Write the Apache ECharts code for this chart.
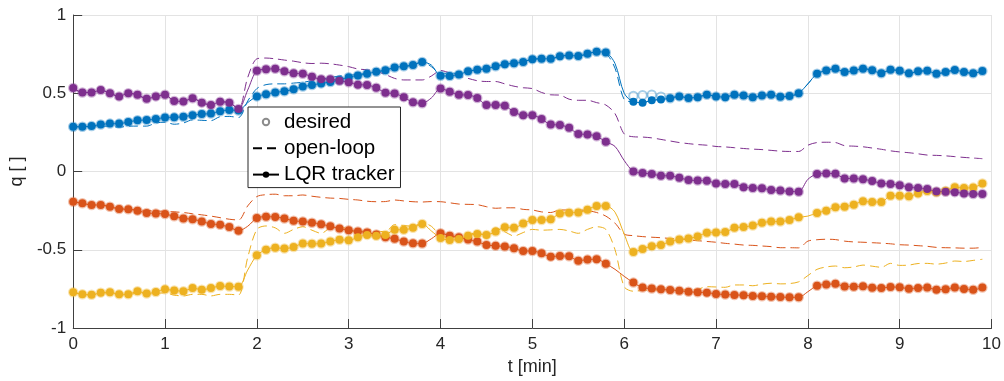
<!DOCTYPE html>
<html>
<head>
<meta charset="utf-8">
<script src="https://cdn.jsdelivr.net/npm/echarts@6/dist/echarts.min.js"></script>
<style>
  html, body { margin: 0; padding: 0; background: #fff; }
  #chart { width: 1004px; height: 381px; }
</style>
</head>
<body>
<div id="chart"></div>
<script>
// samples every 0.1 min, t = 0 ... 9.9
const dt = 0.1;

// q1 (blue)
const q1Lqr = [
  0.286, 0.286, 0.29, 0.30, 0.306, 0.306, 0.316, 0.327, 0.329, 0.335,
  0.345, 0.346, 0.35, 0.36, 0.367, 0.37, 0.385, 0.393, 0.39, 0.44,
  0.48, 0.493, 0.505, 0.513, 0.525, 0.543, 0.552, 0.563, 0.572, 0.585,
  0.603, 0.613, 0.625, 0.637, 0.647, 0.665, 0.672, 0.68, 0.70, 0.68,
  0.612, 0.61, 0.62, 0.64, 0.65, 0.657, 0.672, 0.686, 0.692, 0.70,
  0.718, 0.72, 0.72, 0.737, 0.742, 0.738, 0.752, 0.765, 0.76, 0.69,
  0.50, 0.445, 0.44, 0.455, 0.46, 0.468, 0.48, 0.47, 0.475, 0.49,
  0.48, 0.475, 0.49, 0.485, 0.474, 0.485, 0.49, 0.477, 0.482, 0.50,
  0.56, 0.625, 0.645, 0.657, 0.635, 0.645, 0.657, 0.647, 0.628, 0.65,
  0.643, 0.627, 0.64, 0.643, 0.625, 0.635, 0.648, 0.635, 0.628, 0.642
];
const q1Open = [
  0.286, 0.285, 0.285, 0.288, 0.29, 0.282, 0.29, 0.29, 0.29, 0.31,
  0.315, 0.302, 0.31, 0.33, 0.327, 0.325, 0.35, 0.352, 0.345, 0.45,
  0.53, 0.555, 0.56, 0.56, 0.565, 0.57, 0.58, 0.59, 0.60, 0.61,
  0.615, 0.62, 0.628, 0.637, 0.647, 0.665, 0.672, 0.68, 0.70, 0.67,
  0.625, 0.63, 0.625, 0.64, 0.65, 0.657, 0.672, 0.686, 0.692, 0.70,
  0.718, 0.72, 0.72, 0.737, 0.742, 0.738, 0.752, 0.765, 0.755, 0.66,
  0.46, 0.445, 0.44, 0.455, 0.46, 0.468, 0.48, 0.47, 0.475, 0.49,
  0.48, 0.475, 0.49, 0.485, 0.474, 0.485, 0.49, 0.477, 0.482, 0.50,
  0.56, 0.625, 0.645, 0.657, 0.635, 0.645, 0.657, 0.647, 0.628, 0.65,
  0.643, 0.627, 0.64, 0.643, 0.625, 0.635, 0.648, 0.635, 0.628, 0.642
];
// desired q1 where it separates from the tracker (index -> value)
const q1DesiredAt = { 61: 0.482, 62: 0.488, 63: 0.49, 64: 0.478 };

// q2 (orange)
const q2Lqr = [
  -0.193, -0.203, -0.214, -0.214, -0.225, -0.24, -0.242, -0.25, -0.265, -0.268,
  -0.272, -0.286, -0.30, -0.305, -0.32, -0.335, -0.341, -0.355, -0.378, -0.35,
  -0.297, -0.289, -0.29, -0.30, -0.315, -0.32, -0.327, -0.337, -0.35, -0.365,
  -0.375, -0.383, -0.39, -0.403, -0.42, -0.43, -0.448, -0.459, -0.46, -0.43,
  -0.395, -0.41, -0.42, -0.435, -0.448, -0.469, -0.475, -0.48, -0.49, -0.508,
  -0.508, -0.523, -0.544, -0.54, -0.542, -0.57, -0.563, -0.56, -0.59, -0.625,
  -0.67, -0.71, -0.742, -0.748, -0.753, -0.757, -0.762, -0.768, -0.772, -0.774,
  -0.783, -0.786, -0.789, -0.79, -0.795, -0.797, -0.80, -0.802, -0.804, -0.804,
  -0.768, -0.73, -0.722, -0.718, -0.735, -0.736, -0.734, -0.743, -0.745, -0.738,
  -0.74, -0.749, -0.745, -0.742, -0.755, -0.752, -0.742, -0.75, -0.756, -0.742
];
const q2Open = [
  -0.193, -0.203, -0.214, -0.214, -0.225, -0.235, -0.24, -0.245, -0.25, -0.252,
  -0.255, -0.258, -0.262, -0.27, -0.277, -0.285, -0.295, -0.305, -0.31, -0.22,
  -0.16, -0.148, -0.145, -0.155, -0.155, -0.15, -0.158, -0.165, -0.17, -0.172,
  -0.178, -0.182, -0.19, -0.193, -0.192, -0.182, -0.188, -0.193, -0.195, -0.192,
  -0.193, -0.20, -0.208, -0.21, -0.212, -0.225, -0.235, -0.232, -0.232, -0.242,
  -0.246, -0.258, -0.262, -0.246, -0.246, -0.246, -0.25, -0.262, -0.285, -0.33,
  -0.40, -0.41, -0.416, -0.42, -0.423, -0.428, -0.431, -0.437, -0.442, -0.447,
  -0.452, -0.459, -0.464, -0.47, -0.472, -0.476, -0.48, -0.487, -0.487, -0.488,
  -0.445, -0.436, -0.433, -0.435, -0.445, -0.45, -0.452, -0.455, -0.458, -0.462,
  -0.468, -0.47, -0.474, -0.478, -0.485, -0.487, -0.488, -0.49, -0.49, -0.485
];

// q3 (yellow)
const q3Lqr = [
  -0.772, -0.785, -0.788, -0.774, -0.772, -0.785, -0.785, -0.765, -0.78, -0.77,
  -0.753, -0.76, -0.765, -0.745, -0.755, -0.745, -0.732, -0.735, -0.736, -0.63,
  -0.535, -0.50, -0.487, -0.492, -0.483, -0.46, -0.462, -0.46, -0.447, -0.436,
  -0.44, -0.42, -0.405, -0.41, -0.405, -0.373, -0.372, -0.36, -0.335, -0.38,
  -0.425, -0.438, -0.432, -0.41, -0.40, -0.405, -0.384, -0.357, -0.36, -0.333,
  -0.31, -0.31, -0.305, -0.268, -0.263, -0.262, -0.244, -0.22, -0.22, -0.26,
  -0.40, -0.515, -0.495, -0.477, -0.47, -0.448, -0.434, -0.428, -0.415, -0.391,
  -0.389, -0.387, -0.36, -0.355, -0.345, -0.328, -0.32, -0.32, -0.31, -0.293,
  -0.285, -0.265, -0.25, -0.228, -0.225, -0.212, -0.19, -0.195, -0.195, -0.155,
  -0.155, -0.158, -0.14, -0.125, -0.133, -0.125, -0.10, -0.105, -0.103, -0.076
];
const q3Open = [
  -0.772, -0.785, -0.79, -0.778, -0.775, -0.788, -0.79, -0.775, -0.785, -0.78,
  -0.775, -0.79, -0.795, -0.785, -0.785, -0.795, -0.785, -0.785, -0.789, -0.55,
  -0.37, -0.348, -0.36, -0.395, -0.37, -0.353, -0.375, -0.395, -0.36, -0.355,
  -0.37, -0.395, -0.37, -0.38, -0.385, -0.34, -0.345, -0.35, -0.33, -0.35,
  -0.41, -0.42, -0.415, -0.40, -0.395, -0.405, -0.36, -0.385, -0.412, -0.39,
  -0.37, -0.375, -0.373, -0.37, -0.38, -0.395, -0.37, -0.353, -0.37, -0.50,
  -0.736, -0.765, -0.76, -0.757, -0.757, -0.757, -0.757, -0.755, -0.752, -0.736,
  -0.738, -0.74, -0.725, -0.725, -0.73, -0.72, -0.714, -0.718, -0.716, -0.705,
  -0.665, -0.625, -0.61, -0.604, -0.615, -0.61, -0.598, -0.605, -0.612, -0.587,
  -0.60, -0.598, -0.588, -0.587, -0.592, -0.585, -0.572, -0.575, -0.568, -0.561
];

// q4 (purple)
const q4Lqr = [
  0.533, 0.505, 0.505, 0.52, 0.50, 0.48, 0.50, 0.49, 0.465, 0.48,
  0.49, 0.45, 0.448, 0.468, 0.44, 0.425, 0.445, 0.44, 0.40, 0.52,
  0.644, 0.653, 0.657, 0.64, 0.627, 0.625, 0.605, 0.59, 0.59, 0.58,
  0.57, 0.555, 0.553, 0.535, 0.503, 0.498, 0.475, 0.442, 0.436, 0.47,
  0.53, 0.51, 0.49, 0.489, 0.47, 0.425, 0.425, 0.42, 0.38, 0.36,
  0.36, 0.335, 0.30, 0.297, 0.28, 0.24, 0.237, 0.225, 0.19, 0.16,
  0.07, 0.0, -0.01, -0.016, -0.027, -0.027, -0.04, -0.054, -0.058, -0.059,
  -0.076, -0.08, -0.08, -0.10, -0.105, -0.107, -0.118, -0.122, -0.127, -0.129,
  -0.05, -0.016, -0.012, -0.015, -0.044, -0.045, -0.05, -0.06, -0.076, -0.08,
  -0.088, -0.10, -0.105, -0.112, -0.128, -0.129, -0.132, -0.14, -0.144, -0.144
];
const q4Open = [
  0.533, 0.505, 0.505, 0.52, 0.50, 0.48, 0.50, 0.49, 0.465, 0.48,
  0.49, 0.45, 0.448, 0.468, 0.44, 0.425, 0.445, 0.44, 0.40, 0.60,
  0.72, 0.725, 0.72, 0.712, 0.705, 0.695, 0.69, 0.692, 0.688, 0.68,
  0.67, 0.655, 0.65, 0.64, 0.62, 0.595, 0.585, 0.585, 0.585, 0.61,
  0.645, 0.63, 0.61, 0.595, 0.58, 0.575, 0.575, 0.56, 0.545, 0.535,
  0.53, 0.505, 0.49, 0.488, 0.462, 0.455, 0.455, 0.44, 0.425, 0.37,
  0.24, 0.222, 0.22, 0.215, 0.205, 0.195, 0.185, 0.178, 0.172, 0.168,
  0.16, 0.157, 0.152, 0.147, 0.143, 0.14, 0.135, 0.13, 0.128, 0.128,
  0.168, 0.185, 0.187, 0.185, 0.165, 0.162, 0.158, 0.15, 0.142, 0.132,
  0.125, 0.12, 0.113, 0.105, 0.103, 0.10, 0.095, 0.09, 0.086, 0.082
];

// samples inside the fast slews carry no marker
const noMarker = [19, 39, 59, 60, 80];

const colors = ['#0072BD', '#D95319', '#EDB120', '#7E2F8E'];
const lqr = [q1Lqr, q2Lqr, q3Lqr, q4Lqr];
const openLoop = [q1Open, q2Open, q3Open, q4Open];
const desiredFix = [q1DesiredAt, {}, {}, {}];

const font = '"Liberation Sans", Arial, Helvetica, sans-serif';
const dash = [9, 5];
const tx = i => Math.round(i * dt * 10) / 10;

const desiredSeries = lqr.map((arr, k) => ({
  type: 'scatter',
  symbol: 'emptyCircle',
  symbolSize: 8.5,
  itemStyle: { color: colors[k], borderWidth: 1, opacity: 0.35 },
  data: arr.map((v, i) => [tx(i), desiredFix[k][i] !== undefined ? desiredFix[k][i] : v])
    .filter((p, i) => !noMarker.includes(i)),
  z: 2
}));

const openSeries = openLoop.map((arr, k) => ({
  type: 'line',
  showSymbol: false,
  smooth: 0.3,
  lineStyle: { color: colors[k], width: 1, type: dash },
  data: arr.map((v, i) => [tx(i), v]),
  z: 2
}));

const lqrSeries = lqr.map((arr, k) => ({
  type: 'line',
  symbol: 'circle',
  symbolSize: 8,
  showAllSymbol: true,
  smooth: 0.3,
  itemStyle: { color: colors[k] },
  lineStyle: { color: colors[k], width: 1 },
  data: arr.map((v, i) => noMarker.includes(i) ? { value: [tx(i), v], symbol: 'none' } : [tx(i), v]),
  z: 3
}));

// black entries for the legend only
const legendSeries = [
  { name: 'desired', type: 'line', data: [], symbol: 'emptyCircle', itemStyle: { color: '#8c8c8c' }, lineStyle: { opacity: 0 } },
  { name: 'open-loop', type: 'line', data: [], symbol: 'none', lineStyle: { color: '#000', width: 1, type: dash } },
  { name: 'LQR tracker', type: 'line', data: [], symbol: 'circle', itemStyle: { color: '#000' }, lineStyle: { color: '#000', width: 1 } }
];

const chart = echarts.init(document.getElementById('chart'));
chart.setOption({
  animation: false,
  backgroundColor: '#fff',
  textStyle: { fontFamily: font },
  grid: { left: 69, right: 11, top: 15, bottom: 53 },
  legend: {
    data: [
      { name: 'desired' },
      { name: 'open-loop', itemStyle: { opacity: 0 } },
      { name: 'LQR tracker' }
    ],
    orient: 'vertical',
    left: 248,
    top: 107,
    padding: [4, 6, 2, 4],
    itemWidth: 26,
    itemHeight: 8,
    itemGap: 4.3,
    backgroundColor: '#fff',
    borderColor: '#262626',
    borderWidth: 1,
    selectedMode: false,
    textStyle: { fontSize: 20.5, color: '#000', fontFamily: font, lineHeight: 22 }
  },
  xAxis: {
    type: 'value',
    min: 0,
    max: 10,
    interval: 1,
    name: 't [min]',
    nameLocation: 'middle',
    nameGap: 30,
    nameTextStyle: { fontSize: 18, color: '#262626', fontFamily: font },
    axisLine: { show: true, onZero: false, lineStyle: { color: '#404040', width: 1 } },
    axisTick: { show: true, inside: true, length: 9, lineStyle: { color: '#404040' } },
    axisLabel: { fontSize: 17, color: '#262626', margin: 8, fontFamily: font },
    splitLine: { show: true, lineStyle: { color: '#e3e3e3' } }
  },
  yAxis: {
    type: 'value',
    min: -1,
    max: 1,
    interval: 0.5,
    name: 'q [ ]',
    nameLocation: 'middle',
    nameGap: 37,
    nameTextStyle: { fontSize: 18, color: '#262626', fontFamily: font },
    axisLine: { show: true, onZero: false, lineStyle: { color: '#404040', width: 1 } },
    axisTick: { show: true, inside: true, length: 9, lineStyle: { color: '#404040' } },
    axisLabel: { fontSize: 17, color: '#262626', margin: 7, fontFamily: font },
    splitLine: { show: true, lineStyle: { color: '#e3e3e3' } }
  },
  series: [...desiredSeries, ...openSeries, ...lqrSeries, ...legendSeries]
});
</script>
</body>
</html>
